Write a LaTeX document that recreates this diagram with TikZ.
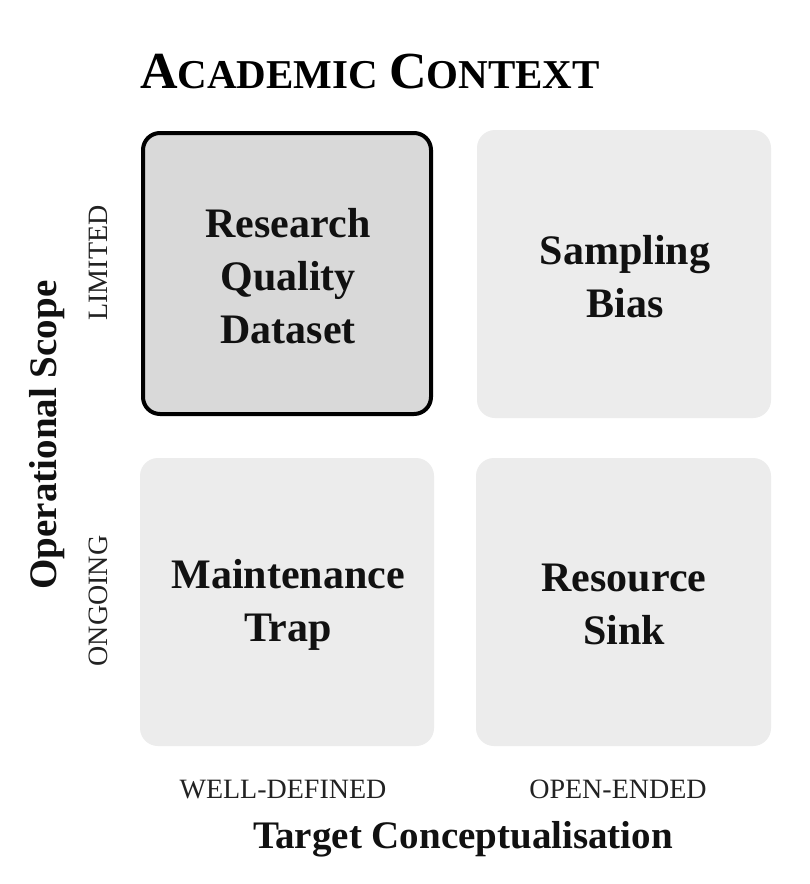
\documentclass[tikz,border=0pt]{standalone}
\usepackage{fontspec}
\setmainfont{Liberation Serif}
\definecolor{inkc}{HTML}{111111}
\definecolor{axisc}{HTML}{222222}
\definecolor{cellhi}{HTML}{D9D9D9}
\definecolor{cellc}{HTML}{ECECEC}
\begin{document}
\begin{tikzpicture}[x=1pt,y=-1pt,
  cell/.style={fill=cellc, draw=none, rounded corners=18pt},
  cellsel/.style={fill=cellhi, draw=black, line width=4pt, rounded corners=17pt},
  celltext/.style={font=\bfseries\fontsize{42}{53}\selectfont, text=inkc, align=center},
  axislab/.style={font=\fontsize{28}{28}\selectfont, text=axisc},
  axistitle/.style={font=\bfseries\fontsize{39}{39}\selectfont, text=inkc}]
\useasboundingbox (0,0) rectangle (809,884);
\fill[white] (0,0) rectangle (809,884);
% title
\node[anchor=base west, inner sep=0pt, text=black, font=\bfseries] (title) at (140,88)
  {{\fontsize{52}{52}\selectfont A}{\fontsize{41}{41}\selectfont CADEMIC}\hspace{11pt}{\fontsize{52}{52}\selectfont C}{\fontsize{41}{41}\selectfont ONTEXT}};
% cells
\path[cellsel] (143,133) rectangle (431,414);
\path[cell] (477,130) rectangle (771,418);
\path[cell] (140,458) rectangle (434,746);
\path[cell] (476,458) rectangle (771,746);
\node[celltext] (rq) at (288,276) {Research\\Quality\\Dataset};
\node[celltext] (sb) at (625,277) {Sampling\\Bias};
\node[celltext] (mt) at (288,605) {Maintenance\\Trap};
\node[celltext] (rs) at (624,604) {Resource\\Sink};
% axis labels
\node[axislab, rotate=90, anchor=base, inner sep=0pt] (lim) at (107,263) {LIMITED};
\node[axislab, rotate=90, anchor=base, inner sep=0pt] (ong) at (107,601) {ONGOING};
\node[axistitle, rotate=90, anchor=base, inner sep=0pt] (ops) at (56,435) {Operational Scope};
\node[axislab, anchor=base, inner sep=0pt] (wd) at (283,798) {WELL-DEFINED};
\node[axislab, anchor=base, inner sep=0pt] (oe) at (618,798) {OPEN-ENDED};
\node[axistitle, anchor=base, inner sep=0pt] (tc) at (463,848) {Target Conceptualisation};
\end{tikzpicture}
\end{document}
